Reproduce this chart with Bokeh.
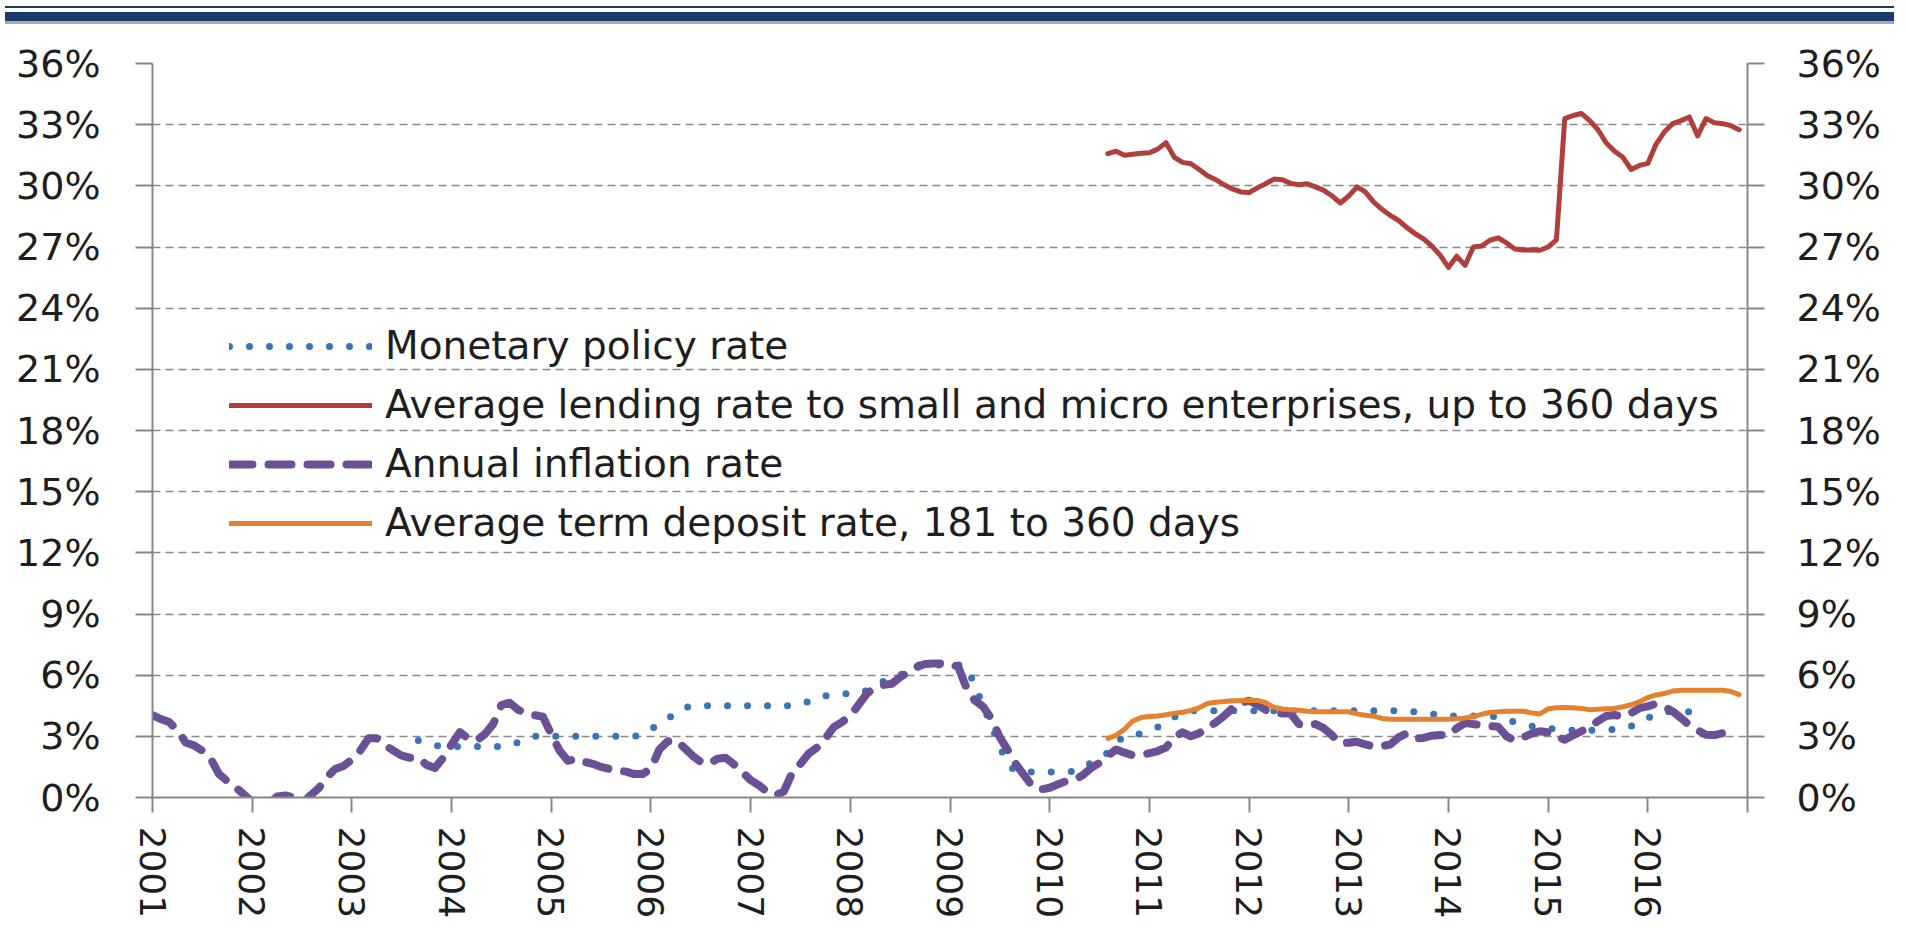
from bokeh.plotting import figure
from bokeh.models import (Range1d, LinearAxis, FixedTicker, PrintfTickFormatter,
                          CustomJSTickFormatter, Legend, LegendItem, Div)
from bokeh.layouts import column
from bokeh.embed import file_html
from bokeh.resources import INLINE

# ---------------- data ----------------
year_ticks = list(range(2001, 2018))
pct_ticks = list(range(0, 37, 3))

# monthly series; start = (year, month)
policy_start = (2003, 9)
policy_rate = [
    2.8, 2.7, 2.55,
    2.5, 2.5, 2.5, 2.5, 2.5, 2.5, 2.5, 2.5,
    2.55, 2.7, 2.85,
    3.0, 3.0, 3.0, 3.0, 3.0, 3.0, 3.0, 3.0, 3.0, 3.0, 3.0, 3.0, 3.0,
    3.1, 3.35, 3.6, 3.85, 4.15, 4.4,
    4.5, 4.5, 4.5, 4.5, 4.5, 4.5, 4.5, 4.5, 4.5, 4.5, 4.5, 4.5, 4.5,
    4.6, 4.7, 4.85, 4.98, 5.05, 5.07, 5.1, 5.1, 5.25, 5.45, 5.7, 5.85, 6.0, 6.3,
    6.5, 6.5, 6.5, 6.5, 6.5, 6.5,
    6.4, 5.5, 4.5, 3.5, 2.5, 1.6,
    1.25, 1.25, 1.25, 1.25, 1.25, 1.25, 1.25,
    1.3, 1.5, 1.7, 1.95, 2.2, 2.7, 3.0, 3.0, 3.15, 3.3, 3.45, 3.7, 3.95, 4.15,
    4.25, 4.25, 4.25, 4.25, 4.25, 4.25, 4.25, 4.25, 4.25, 4.25, 4.25, 4.25, 4.25, 4.25,
    4.25, 4.25, 4.25, 4.25, 4.25, 4.25, 4.25, 4.25, 4.25, 4.25, 4.25, 4.25, 4.25,
    4.2, 4.15, 4.1, 4.05,
    4.0, 4.0, 4.0, 4.0, 4.0, 4.0,
    3.95, 3.8, 3.7, 3.6, 3.5, 3.45, 3.4, 3.35,
    3.3, 3.3, 3.3, 3.3, 3.3, 3.3,
    3.35, 3.4, 3.5, 3.7, 3.9, 4.05, 4.2,
    4.2, 4.2, 4.2, 4.2, 4.2,
]

lending_start = (2010, 8)
lending_rate = [
    31.58, 31.7, 31.5, 31.55, 31.6, 31.62, 31.8, 32.12, 31.4, 31.15,
    31.08, 30.8, 30.5, 30.3, 30.05, 29.85, 29.7, 29.67, 29.9, 30.1,
    30.33, 30.3, 30.12, 30.05, 30.1, 29.95, 29.78, 29.5, 29.16, 29.5,
    29.95, 29.7, 29.2, 28.85, 28.55, 28.3, 27.95, 27.65, 27.4, 27.05,
    26.6, 26.0, 26.55, 26.1, 27.0, 27.05, 27.33, 27.45, 27.2, 26.9,
    26.85, 26.85, 26.84, 27.0, 27.35, 33.3, 33.45, 33.55, 33.2, 32.75,
    32.1, 31.7, 31.4, 30.8, 31.0, 31.1, 32.05, 32.65, 33.05, 33.2,
    33.38, 32.45, 33.3, 33.1, 33.05, 32.95, 32.75,
]

inflation_start = (2001, 1)
inflation_rate = [
    4.04, 3.85, 3.7, 3.3, 2.7, 2.55, 2.3, 1.91, 1.15, 0.8, 0.5, 0.15,
    -0.2, -0.5, -0.3, 0.05, 0.1, 0.0, -0.3, 0.1, 0.45,
    1.0, 1.4, 1.55, 1.85, 2.3, 2.9, 2.9, 2.55, 2.3, 2.05,
    1.95, 1.93, 1.6, 1.45, 1.95, 2.6, 3.2, 2.9, 2.8, 3.1,
    3.6, 4.53, 4.65, 4.3, 4.15, 4.04, 3.96, 3.1, 2.3, 1.8,
    1.9, 1.75, 1.65, 1.5, 1.4, 1.32, 1.27, 1.15, 1.15, 1.42,
    2.35, 2.75, 2.8, 2.45, 2.05, 1.75, 1.65, 1.9, 1.95, 1.62,
    1.25, 0.85, 0.6, 0.28, 0.1, 0.3, 1.2, 1.65, 2.16, 2.45,
    2.9, 3.45, 3.7, 4.0, 4.55, 5.1, 5.4, 5.52, 5.58, 5.9,
    6.15, 6.4, 6.55, 6.57, 6.57, 6.57, 6.4, 5.35, 4.75, 4.45,
    3.85, 2.95, 2.3, 1.6, 1.05, 0.5, 0.4, 0.48, 0.65, 0.8,
    0.87, 1.1, 1.45, 1.7, 2.05, 2.35, 2.2, 2.07, 2.1, 2.17,
    2.28, 2.45, 2.95, 3.2, 3.0, 3.15, 3.45, 3.68, 4.0, 4.38,
    4.63, 4.75, 4.55, 4.3, 4.18, 4.12, 4.12, 3.6, 3.52, 3.6,
    3.4, 3.05, 2.65, 2.69, 2.73, 2.6, 2.5, 2.52, 2.6, 2.95,
    3.15, 2.9, 2.92, 3.03, 3.06, 3.06, 3.4, 3.65, 3.6, 3.55,
    3.5, 3.47, 3.0, 2.8, 2.95, 3.13, 3.25, 3.2, 3.0, 2.83,
    3.05, 3.25, 3.45, 3.75, 4.0, 4.05, 3.96, 4.15, 4.38, 4.47,
    4.6, 4.45, 4.22, 3.9, 3.55, 3.3, 3.08, 3.06, 3.15, 3.35,
]

deposit_start = (2010, 8)
deposit_rate = [
    2.9, 3.05, 3.35, 3.75, 3.92, 3.97, 4.0, 4.06, 4.13, 4.18,
    4.27, 4.40, 4.61, 4.67, 4.71, 4.74, 4.76, 4.77, 4.76, 4.65,
    4.43, 4.34, 4.3, 4.28, 4.23, 4.2, 4.2, 4.2, 4.2, 4.2,
    4.1, 4.03, 3.99, 3.88, 3.84, 3.84, 3.84, 3.84, 3.84, 3.84,
    3.84, 3.84, 3.86, 3.9, 3.98, 4.08, 4.17, 4.2, 4.23, 4.23,
    4.23, 4.15, 4.1, 4.35, 4.4, 4.41, 4.4, 4.37, 4.3, 4.33,
    4.35, 4.37, 4.45, 4.55, 4.7, 4.9, 5.03, 5.1, 5.22, 5.26,
    5.26, 5.26, 5.26, 5.26, 5.26, 5.2, 5.05,
]

series_names = [
    "Monetary policy rate",
    "Average lending rate to small and micro enterprises, up to 360 days",
    "Annual inflation rate",
    "Average term deposit rate, 181 to 360 days",
]


def month_x(start, n):
    y0, m0 = start
    return [y0 + (m0 - 1 + i) / 12.0 for i in range(n)]


FONT = "DejaVu Sans"
TEXT = "#1e1e1e"
AXIS = "#878787"
NAVY = "#1b3a6b"

# ---------------- header band ----------------
band = Div(width=1889, height=19, text=(
    '<div style="width:1889px;height:19px;line-height:0;font-size:0;">'
    '<div style="height:1px;background:#ffffff;"></div>'
    f'<div style="height:2px;background:{NAVY};"></div>'
    '<div style="height:4px;background:#ffffff;"></div>'
    f'<div style="height:9px;background:{NAVY};"></div>'
    '<div style="height:3px;background:#a8a8a8;"></div>'
    '</div>'))

# ---------------- main chart ----------------
p = figure(width=1889, height=901, output_backend="svg", toolbar_location=None,
           x_range=Range1d(2001, 2017), y_range=Range1d(0, 36),
           min_border_left=152, min_border_right=142,
           min_border_top=34, min_border_bottom=133)
p.outline_line_color = None
p.background_fill_color = "white"
p.xgrid.visible = False
p.ygrid.ticker = FixedTicker(ticks=pct_ticks[1:])
p.ygrid.grid_line_color = "#8a8a8a"
p.ygrid.grid_line_dash = "8 5"
p.ygrid.grid_line_width = 1.5

p.xaxis.ticker = FixedTicker(ticks=year_ticks)
p.xaxis.formatter = CustomJSTickFormatter(code="return tick >= 2017 ? '' : tick.toFixed(0);")
p.xaxis.major_label_orientation = "vertical"
p.xaxis.major_tick_out = 15
p.xaxis.major_tick_in = 0
p.xaxis.major_label_standoff = 14
p.xaxis.major_label_text_font_size = "36px"

p.yaxis.ticker = FixedTicker(ticks=pct_ticks)
p.yaxis.formatter = PrintfTickFormatter(format="%d%%")
p.yaxis.major_tick_out = 17
p.yaxis.major_tick_in = 0
p.yaxis.major_label_standoff = 35
p.yaxis.major_label_text_font_size = "38px"

right = LinearAxis(ticker=FixedTicker(ticks=pct_ticks),
                   formatter=PrintfTickFormatter(format="%d%%"))
right.major_tick_out = 17
right.major_tick_in = 0
right.major_label_standoff = 32
right.major_label_text_font_size = "38px"
p.add_layout(right, "right")

for ax in [p.xaxis[0], p.yaxis[0], right]:
    ax.axis_line_color = AXIS
    ax.axis_line_width = 2
    ax.major_tick_line_color = AXIS
    ax.major_tick_line_width = 2
    ax.minor_tick_line_color = None
    ax.major_label_text_font = FONT
    ax.major_label_text_color = TEXT

r_policy = p.line(month_x(policy_start, len(policy_rate)), policy_rate,
                  line_color="#3a74b8", line_width=7, line_dash="0 20", line_cap="round")
r_lend = p.line(month_x(lending_start, len(lending_rate)), lending_rate,
                line_color="#b03f3c", line_width=5, line_join="round", line_cap="round")
r_infl = p.line(month_x(inflation_start, len(inflation_rate)), inflation_rate,
                line_color="#6c5096", line_width=8, line_dash="23 16", line_cap="round",
                line_join="round")
r_dep = p.line(month_x(deposit_start, len(deposit_rate)), deposit_rate,
               line_color="#e4822f", line_width=5, line_join="round", line_cap="round")

legend = Legend(items=[LegendItem(label=series_names[0], renderers=[r_policy]),
                       LegendItem(label=series_names[1], renderers=[r_lend]),
                       LegendItem(label=series_names[2], renderers=[r_infl]),
                       LegendItem(label=series_names[3], renderers=[r_dep])],
                location=(77, 252))
legend.label_text_font = FONT
legend.label_text_font_size = "39px"
legend.label_text_color = TEXT
legend.glyph_width = 143
legend.glyph_height = 40
legend.label_height = 40
legend.spacing = 14
legend.padding = 0
legend.margin = 0
legend.label_standoff = 13
legend.border_line_alpha = 0
legend.background_fill_alpha = 0
p.add_layout(legend)

layout = column(band, p, spacing=0)
open("out.html", "w").write(file_html(layout, INLINE))
